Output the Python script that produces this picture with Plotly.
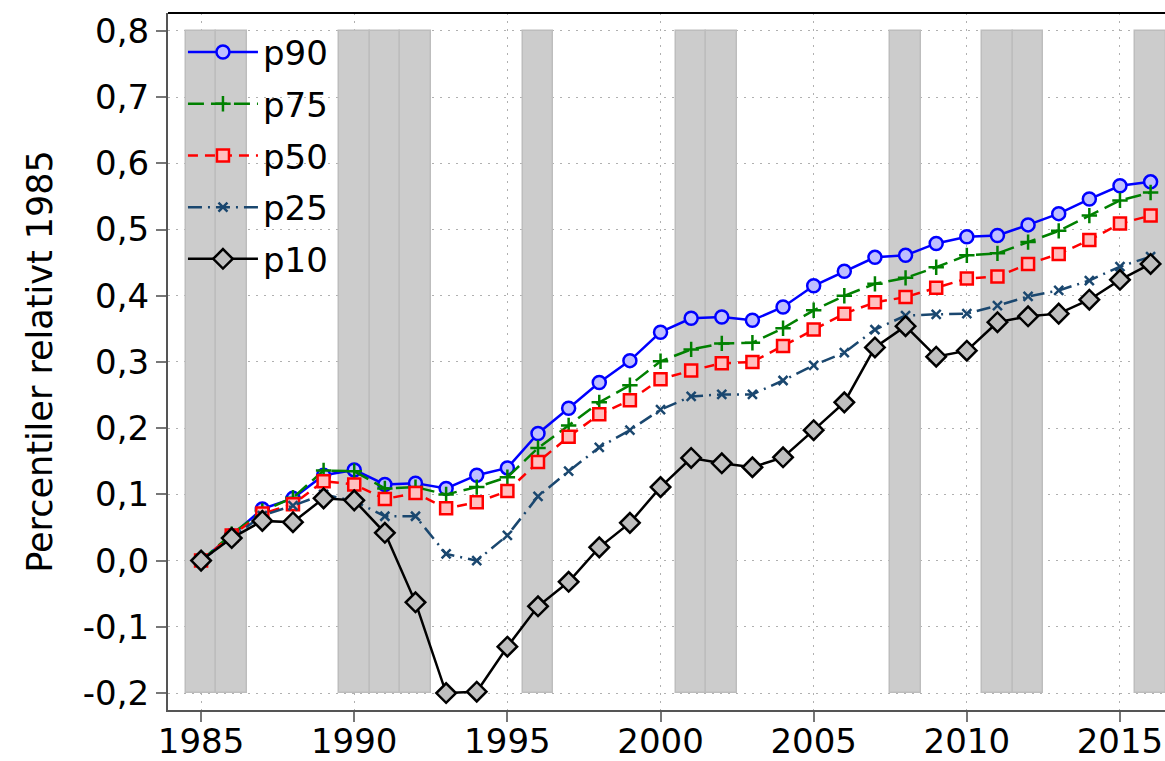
import plotly.graph_objects as go

years = list(range(1985, 2017))

p90 = [0.0, 0.038, 0.078, 0.094, 0.129, 0.137, 0.115, 0.117, 0.109, 0.129,
       0.140, 0.192, 0.230, 0.269, 0.302, 0.345, 0.366, 0.368, 0.363, 0.383,
       0.415, 0.437, 0.458, 0.461, 0.479, 0.489, 0.491, 0.507, 0.524, 0.546,
       0.566, 0.572]
p75 = [0.0, 0.040, 0.075, 0.095, 0.136, 0.135, 0.109, 0.111, 0.100, 0.111,
       0.126, 0.170, 0.204, 0.239, 0.265, 0.301, 0.319, 0.328, 0.329, 0.351,
       0.378, 0.400, 0.418, 0.427, 0.443, 0.461, 0.464, 0.481, 0.498, 0.521,
       0.544, 0.556]
p50 = [0.0, 0.038, 0.071, 0.085, 0.120, 0.115, 0.093, 0.102, 0.079, 0.088,
       0.105, 0.149, 0.187, 0.221, 0.242, 0.274, 0.287, 0.298, 0.300, 0.324,
       0.349, 0.373, 0.390, 0.398, 0.412, 0.426, 0.429, 0.448, 0.463, 0.484,
       0.509, 0.521]
p25 = [0.0, 0.035, 0.068, 0.083, 0.100, 0.090, 0.067, 0.067, 0.010, 0.000,
       0.038, 0.097, 0.135, 0.171, 0.197, 0.228, 0.248, 0.251, 0.251, 0.272,
       0.295, 0.314, 0.349, 0.370, 0.372, 0.373, 0.385, 0.399, 0.408, 0.423,
       0.444, 0.459]
p10 = [0.0, 0.034, 0.060, 0.058, 0.094, 0.091, 0.042, -0.063, -0.200, -0.198,
       -0.130, -0.069, -0.032, 0.020, 0.057, 0.111, 0.155, 0.147, 0.141, 0.156,
       0.197, 0.239, 0.322, 0.354, 0.308, 0.317, 0.360, 0.369, 0.373, 0.394,
       0.424, 0.448]

# lågkonjunkturår (grå fält)
shade_years = [1985, 1986, 1990, 1991, 1992, 1996, 2001, 2002, 2008, 2011, 2012, 2016]
shade_low = -0.2
shade_high = 0.8

y_ticks = [-0.2, -0.1, 0.0, 0.1, 0.2, 0.3, 0.4, 0.5, 0.6, 0.7, 0.8]
y_ticktext = ["-0,2", "-0,1", "0,0", "0,1", "0,2", "0,3", "0,4", "0,5", "0,6", "0,7", "0,8"]
x_ticks = [1985, 1990, 1995, 2000, 2005, 2010, 2015]

FONT = "DejaVu Sans"
FS = 34

fig = go.Figure()

fig.add_trace(go.Bar(
    x=shade_years, y=[shade_high - shade_low] * len(shade_years), base=shade_low,
    width=1, marker=dict(color="#cccccc", line=dict(color="#bdbdbd", width=1.5)),
    showlegend=False, hoverinfo="skip"))

series = [
    ("p90", p90, "#0000ff", "circle", 13, "#bfbfff", "solid"),
    ("p75", p75, "#008000", "cross-thin", 11, "#008000", "16px,7px"),
    ("p50", p50, "#ff0000", "square", 12, "#ffbfbf", "10px,7px"),
    ("p25", p25, "#1a476f", "x-thin", 9, "#1a476f", "14px,6px,2px,6px"),
    ("p10", p10, "#000000", "diamond", 15, "#bebebe", "solid"),
]

for name, vals, color, symbol, size, fill, dash in series:
    fig.add_trace(go.Scatter(
        x=years, y=vals, name=name, mode="lines+markers", legendgroup=name,
        line=dict(color=color, width=2.5, dash=dash),
        marker=dict(symbol=symbol, size=size, color=fill,
                    line=dict(color=color, width=2.5))))

# svart ram upptill
fig.add_shape(type="line", xref="paper", yref="paper", x0=0, x1=1, y0=1, y1=1,
              line=dict(color="black", width=2))

fig.update_xaxes(range=[1983.92, 2016.47], tickvals=x_ticks, ticks="outside",
                 ticklen=10, tickcolor="#777777", tickwidth=2, automargin=False,
                 ticklabelstandoff=-10,
                 showline=True, linecolor="#555555", linewidth=2,
                 showgrid=True, gridcolor="#b0b0b0", griddash="2px,6px", gridwidth=1,
                 zeroline=False, tickfont=dict(size=FS, color="black", family=FONT))
fig.update_yaxes(range=[-0.2256, 0.827], tickvals=y_ticks, ticktext=y_ticktext,
                 ticks="outside", ticklen=10, tickcolor="#777777", tickwidth=2,
                 automargin=False,
                 showline=True, linecolor="#555555", linewidth=2,
                 showgrid=True, gridcolor="#b0b0b0", griddash="2px,6px", gridwidth=1,
                 zeroline=False, tickfont=dict(size=FS, color="black", family=FONT),
                 title=dict(text="Percentiler relativt 1985", standoff=20,
                            font=dict(size=35, color="black", family=FONT)))

fig.update_layout(
    width=1165, height=761,
    margin=dict(l=168, r=0, t=13, b=51),
    plot_bgcolor="white", paper_bgcolor="white",
    barmode="overlay", bargap=0,
    font=dict(family=FONT, color="black"),
    legend=dict(x=0.015, y=0.985, xanchor="left", yanchor="top",
                bgcolor="rgba(0,0,0,0)", itemwidth=70, traceorder="grouped",
                tracegroupgap=4.5, font=dict(size=FS, family=FONT, color="black")),
)

# ta bort sidans standardmarginal så att figuren fyller fönstret
fig.write_html("out.html", config={"displayModeBar": False},
               post_script="document.body.style.margin='0';"
                           "document.body.style.overflow='hidden';")
